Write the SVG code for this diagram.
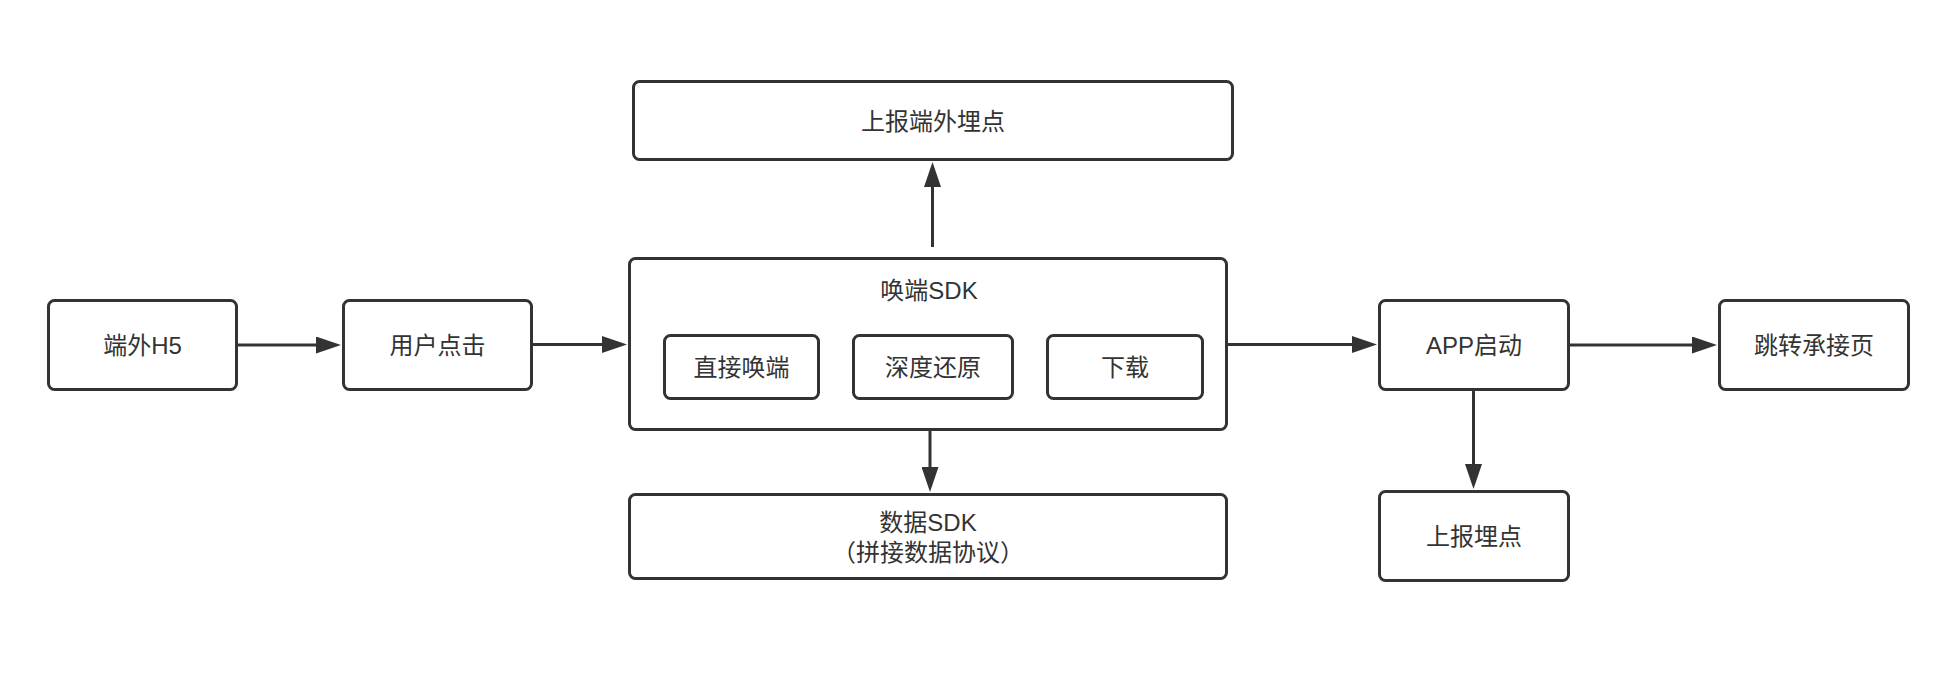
<svg xmlns="http://www.w3.org/2000/svg" width="1936" height="684" viewBox="0 0 1936 684">
<style>
.box{fill:#ffffff;stroke:#333333;stroke-width:3}
.t{font-family:"Liberation Sans","Noto Sans CJK SC",sans-serif;font-size:24px;fill:#333333;text-anchor:middle;dominant-baseline:central}
.c{stroke:#333333;stroke-width:3;fill:none;marker-end:url(#arr)}
</style>
<defs>
<marker id="arr" markerUnits="userSpaceOnUse" viewBox="0 0 25 17" refX="15" refY="8.5" markerWidth="25" markerHeight="17" orient="auto">
<path d="M0,0 L25,8.5 L0,17 Z" fill="#333333"/>
</marker>
</defs>
<rect width="1936" height="684" fill="#ffffff"/>
<g id="connectors">
<line class="c" x1="238" y1="345" x2="331" y2="345"/>
<line class="c" x1="533" y1="344.5" x2="617" y2="344.5"/>
<line class="c" x1="1228" y1="344.5" x2="1367" y2="344.5"/>
<line class="c" x1="1570" y1="345" x2="1707" y2="345"/>
<line class="c" x1="932.5" y1="247" x2="932.5" y2="172"/>
<line class="c" x1="930" y1="430" x2="930" y2="482"/>
<line class="c" x1="1473.5" y1="391" x2="1473.5" y2="479"/>
</g>
<g id="n-h5"><rect class="box" x="48.5" y="300.5" width="188" height="89" rx="6"/><text class="t" x="142.5" y="345">端外H5</text></g>
<g id="n-click"><rect class="box" x="343.5" y="300.5" width="188" height="89" rx="6"/><text class="t" x="437.5" y="345">用户点击</text></g>
<g id="n-report-out"><rect class="box" x="633.5" y="81.5" width="599" height="78" rx="6"/><text class="t" x="933" y="121">上报端外埋点</text></g>
<g id="n-sdk"><rect class="box" x="629.5" y="258.5" width="597" height="171" rx="6"/><text class="t" x="929" y="290">唤端SDK</text></g>
<g id="n-direct"><rect class="box" x="664.5" y="335.5" width="154" height="63" rx="6"/><text class="t" x="741.5" y="367">直接唤端</text></g>
<g id="n-deep"><rect class="box" x="853.5" y="335.5" width="159" height="63" rx="6"/><text class="t" x="933" y="367">深度还原</text></g>
<g id="n-download"><rect class="box" x="1047.5" y="335.5" width="155" height="63" rx="6"/><text class="t" x="1125" y="367">下载</text></g>
<g id="n-data"><rect class="box" x="629.5" y="494.5" width="597" height="84" rx="6"/><text class="t" x="928" y="522">数据SDK</text><text class="t" x="928" y="552">（拼接数据协议）</text></g>
<g id="n-app"><rect class="box" x="1379.5" y="300.5" width="189" height="89" rx="6"/><text class="t" x="1474" y="345">APP启动</text></g>
<g id="n-jump"><rect class="box" x="1719.5" y="300.5" width="189" height="89" rx="6"/><text class="t" x="1814" y="345">跳转承接页</text></g>
<g id="n-report"><rect class="box" x="1379.5" y="491.5" width="189" height="89" rx="6"/><text class="t" x="1474" y="536">上报埋点</text></g>
</svg>
